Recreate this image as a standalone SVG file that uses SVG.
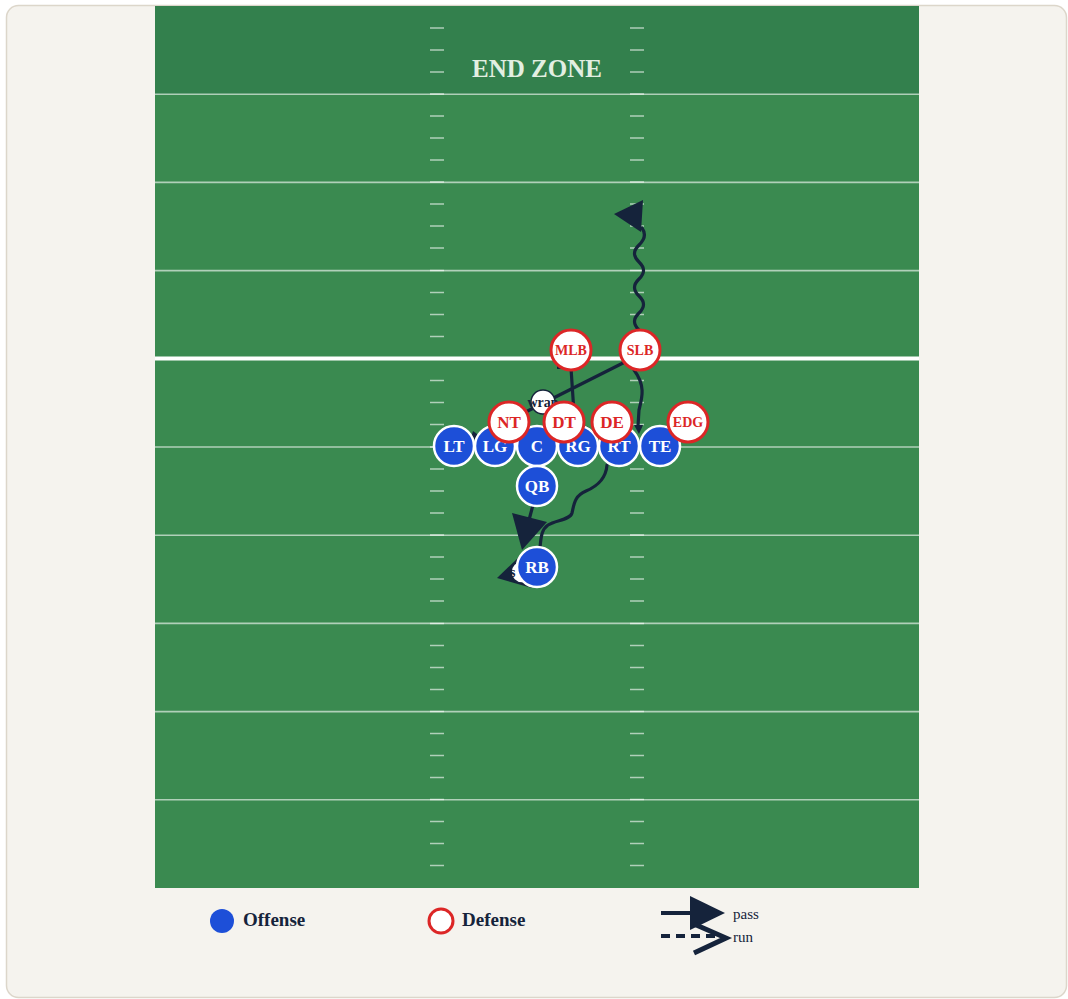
<svg xmlns="http://www.w3.org/2000/svg" width="1068" height="999" viewBox="0 0 1068 999">
<style>
.yl{stroke:#ffffff;stroke-opacity:0.6;stroke-width:1.6}
.hm{stroke:#ffffff;stroke-opacity:0.6;stroke-width:1.6}
.rt{fill:none;stroke:#15233b;stroke-width:3.2;stroke-linecap:round;stroke-linejoin:round}
.ah{fill:#15233b}
.off circle{fill:#1d4fd8;stroke:#ffffff;stroke-width:2.5}
.off text{fill:#ffffff;font-family:"Liberation Serif",serif;font-weight:bold;font-size:17px;text-anchor:middle}
.def circle{fill:#ffffff;stroke:#dc2626;stroke-width:3}
.def text{fill:#dc2626;font-family:"Liberation Serif",serif;font-weight:bold;font-size:17px;text-anchor:middle}
.lbl circle{fill:#ffffff;stroke:#15233b;stroke-width:1.5}
.lbl text{fill:#15233b;font-family:"Liberation Serif",serif;font-weight:bold;font-size:14px;text-anchor:middle}
.leg{fill:#15233b;font-family:"Liberation Serif",serif;font-weight:bold;font-size:19px}
.legs{fill:#15233b;font-family:"Liberation Serif",serif;font-size:15px}
</style>
<rect x="6.5" y="5.5" width="1060" height="992" rx="12" fill="#f5f3ee" stroke="#dcd6ca" stroke-width="1.5"/>
<g id="field">
<rect x="155" y="6" width="764" height="882" fill="#3a8a50"/>
<rect x="155" y="6" width="764" height="88.2" fill="#33804d"/>
<g id="yard-lines">
<line class="yl" x1="155" y1="94.2" x2="919" y2="94.2"/>
<line class="yl" x1="155" y1="182.4" x2="919" y2="182.4"/>
<line class="yl" x1="155" y1="270.6" x2="919" y2="270.6"/>
<line class="yl" x1="155" y1="447" x2="919" y2="447"/>
<line class="yl" x1="155" y1="535.2" x2="919" y2="535.2"/>
<line class="yl" x1="155" y1="623.4" x2="919" y2="623.4"/>
<line class="yl" x1="155" y1="711.6" x2="919" y2="711.6"/>
<line class="yl" x1="155" y1="799.8" x2="919" y2="799.8"/>
</g>
<g id="hashes">
<path class="hm" d="M430,28H444M630,28H644M430,50H444M630,50H644M430,72H444M630,72H644M430,94H444M630,94H644M430,116H444M630,116H644M430,138H444M630,138H644M430,160H444M630,160H644M430,182H444M630,182H644M430,204H444M630,204H644M430,226H444M630,226H644M430,248H444M630,248H644M430,270.5H444M630,270.5H644M430,292.5H444M630,292.5H644M430,314.5H444M630,314.5H644M430,336.5H444M630,336.5H644M430,380.5H444M630,380.5H644M430,402.5H444M630,402.5H644M430,424.5H444M630,424.5H644M430,447H444M630,447H644M430,469H444M630,469H644M430,491H444M630,491H644M430,513H444M630,513H644M430,535H444M630,535H644M430,557H444M630,557H644M430,579H444M630,579H644M430,601H444M630,601H644M430,623.5H444M630,623.5H644M430,645.5H444M630,645.5H644M430,667.5H444M630,667.5H644M430,689.5H444M630,689.5H644M430,711.5H444M630,711.5H644M430,733.5H444M630,733.5H644M430,755.5H444M630,755.5H644M430,777.5H444M630,777.5H644M430,799.5H444M630,799.5H644M430,821.5H444M630,821.5H644M430,843.5H444M630,843.5H644M430,865.5H444M630,865.5H644"/>
</g>
<line id="scrimmage" x1="155" y1="358.5" x2="919" y2="358.5" stroke="#ffffff" stroke-width="4"/>
<text x="537" y="77" fill="#e3efe2" font-family="'Liberation Serif',serif" font-weight="bold" font-size="25" text-anchor="middle">END ZONE</text>
</g>
<g id="connectors">
<path class="rt" d="M639,330 q-9,-8.5 0,-17 t0,-17 t0,-17 t0,-17 t0,-17 t3,-17"/>
<polygon class="ah" points="614,214 643,200 641,232"/>
<path class="rt" d="M634,370 C646,386 642,398 639,410 L638,426"/>
<polygon class="ah" points="634,425 643,425 639,434"/>
<path class="rt" d="M623,363 L476,437"/>
<polygon class="ah" points="470,441 473,431 481,437"/>
<path class="rt" d="M571,368 L575,428 L587,428"/>
<polygon class="ah" points="557,365 561,365 561,369 557,369"/>
<path class="rt" d="M533,505 L529,520"/>
<polygon class="ah" points="512,513 547,522 522,550"/>
<path class="rt" d="M607,465 C606,478 598,486 586,491 C574,496 574,505 572,513 C570,520 556,520 548,525 C541,530 541,538 540,548"/>
<polygon class="ah" points="497,578 520,556 532,588"/>
</g>
<g id="label-s" class="lbl"><circle cx="522" cy="572" r="11"/><text x="510" y="577" style="text-anchor:start">s</text></g>
<g id="label-wrap" class="lbl"><circle cx="543" cy="402" r="12"/><text x="543" y="407">wrap</text></g>
<g id="LT" class="off"><circle cx="454" cy="446" r="20"/><text x="454" y="452">LT</text></g>
<g id="LG" class="off"><circle cx="495" cy="446" r="20"/><text x="495" y="452">LG</text></g>
<g id="C" class="off"><circle cx="537" cy="446" r="20"/><text x="537" y="452">C</text></g>
<g id="RG" class="off"><circle cx="578" cy="446" r="20"/><text x="578" y="452">RG</text></g>
<g id="RT" class="off"><circle cx="619" cy="446" r="20"/><text x="619" y="452">RT</text></g>
<g id="TE" class="off"><circle cx="660" cy="446" r="20"/><text x="660" y="452">TE</text></g>
<g id="QB" class="off"><circle cx="537" cy="486" r="20"/><text x="537" y="492">QB</text></g>
<g id="RB" class="off"><circle cx="537" cy="567" r="20"/><text x="537" y="573">RB</text></g>
<g id="NT" class="def"><circle cx="509" cy="422" r="20"/><text x="509" y="428">NT</text></g>
<g id="DT" class="def"><circle cx="564" cy="422" r="20"/><text x="564" y="428">DT</text></g>
<g id="DE" class="def"><circle cx="612" cy="422" r="20"/><text x="612" y="428">DE</text></g>
<g id="EDG" class="def"><circle cx="688" cy="422" r="20"/><text x="688" y="427" style="font-size:14px">EDG</text></g>
<g id="MLB" class="def"><circle cx="571" cy="350" r="20"/><text x="571" y="355" style="font-size:14px">MLB</text></g>
<g id="SLB" class="def"><circle cx="640" cy="350" r="20"/><text x="640" y="355" style="font-size:14px">SLB</text></g>
<g id="legend">
<circle cx="222" cy="921" r="12" fill="#1d4fd8"/>
<text class="leg" x="243" y="926">Offense</text>
<circle cx="441" cy="921" r="12" fill="#ffffff" stroke="#dc2626" stroke-width="3"/>
<text class="leg" x="462" y="926">Defense</text>
<line x1="661" y1="913" x2="700" y2="913" stroke="#15233b" stroke-width="4"/>
<polygon class="ah" points="690,896 725,913 690,930"/>
<text class="legs" x="733" y="919">pass</text>
<line x1="661" y1="936" x2="716" y2="936" stroke="#15233b" stroke-width="4" stroke-dasharray="9,6"/>
<polyline points="694,924 726,938 694,953" fill="none" stroke="#15233b" stroke-width="5"/>
<text class="legs" x="733" y="942">run</text>
</g>
</svg>
